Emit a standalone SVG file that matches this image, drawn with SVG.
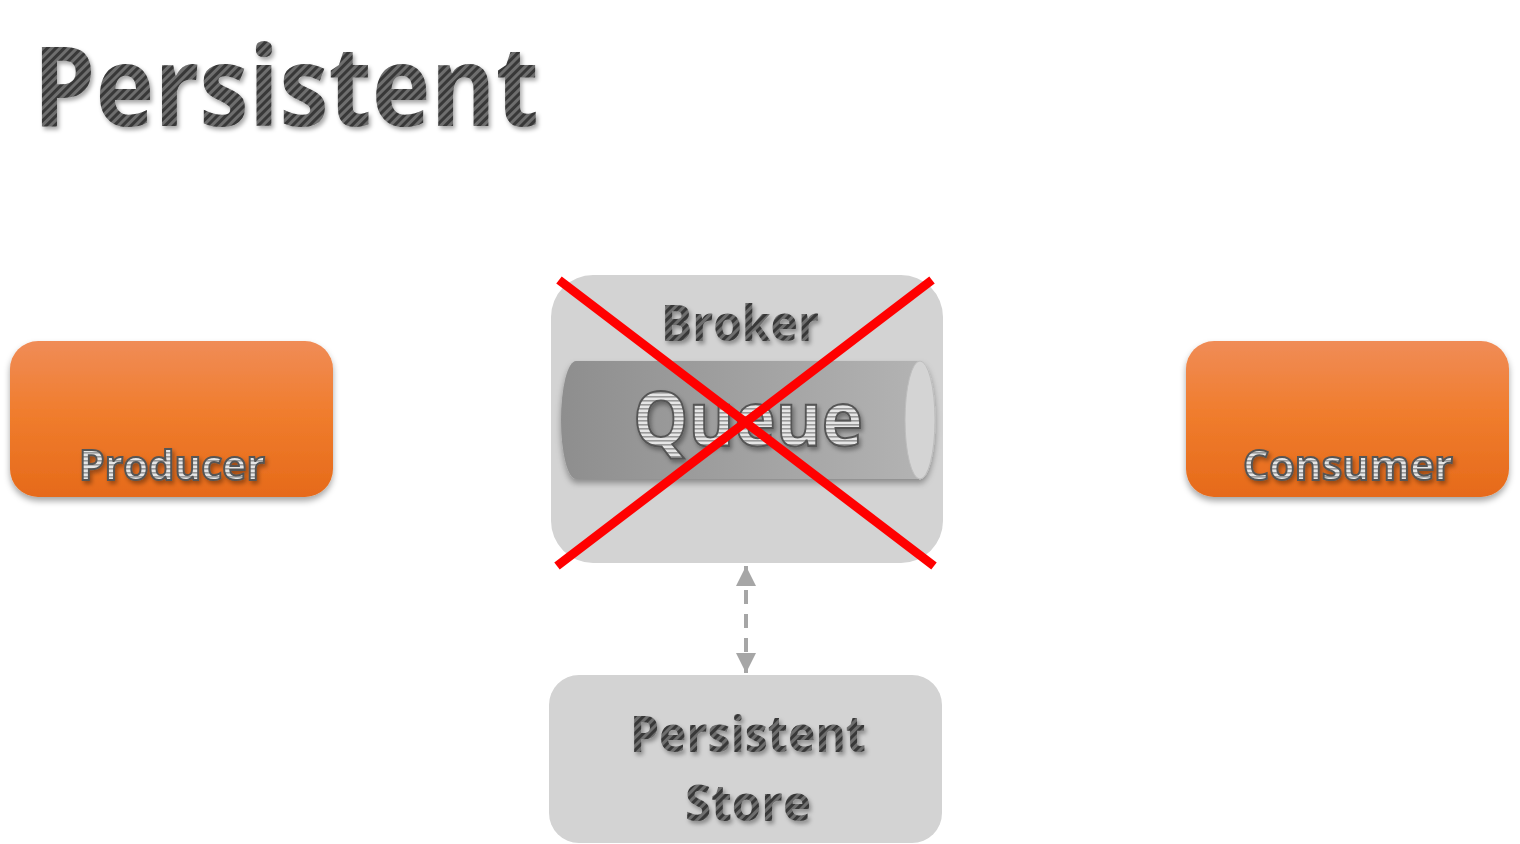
<svg xmlns="http://www.w3.org/2000/svg" width="1520" height="844" viewBox="0 0 1520 844">
<defs>
<style>
.t{font-family:"Open Sans","Noto Sans","Liberation Sans",sans-serif;font-weight:700;text-anchor:middle}
.carbon{fill:url(#carbon);filter:url(#tshadow)}
.stripe{fill:url(#hstripe);stroke:#555;stroke-width:2;filter:url(#tshadow)}
.gbox{fill:#d3d3d3}
.conn{stroke:#a6a6a6;stroke-width:4;stroke-dasharray:14 10;fill:none}
.cross{stroke:#ff0000;stroke-width:9;stroke-linecap:butt}
</style>
<pattern id="carbon" width="6" height="6" patternUnits="userSpaceOnUse" patternTransform="rotate(45)">
<rect width="6" height="6" fill="#6e6e6e"/>
<rect width="3" height="6" fill="#383838"/>
</pattern>
<pattern id="hstripe" width="4" height="4" patternUnits="userSpaceOnUse">
<rect width="4" height="4" fill="#e6e6e6"/>
<rect width="4" height="1.6" fill="#9a9a9a"/>
</pattern>
<filter id="tshadow" x="-10%" y="-20%" width="120%" height="150%">
<feDropShadow dx="2" dy="3" stdDeviation="2" flood-color="#000" flood-opacity="0.35"/>
</filter>
<filter id="bshadow" x="-10%" y="-10%" width="120%" height="130%">
<feDropShadow dx="0" dy="4" stdDeviation="3" flood-color="#000" flood-opacity="0.35"/>
</filter>
<linearGradient id="orange" x1="0" y1="0" x2="0" y2="1">
<stop offset="0" stop-color="#f08c57"/>
<stop offset="0.45" stop-color="#f07d2e"/>
<stop offset="1" stop-color="#e66a1a"/>
</linearGradient>
<linearGradient id="cyl" x1="0" y1="0" x2="1" y2="0">
<stop offset="0" stop-color="#8e8e8e"/>
<stop offset="1" stop-color="#b3b3b3"/>
</linearGradient>
<marker id="ah" viewBox="0 0 10 10" refX="10" refY="5" markerWidth="5" markerHeight="5" orient="auto-start-reverse">
<path d="M0,0 L10,5 L0,10 z" fill="#a6a6a6"/>
</marker>
</defs>
<rect width="1520" height="844" fill="#ffffff"/>

<text id="title" class="t carbon" x="286" y="126" font-size="112" textLength="506" lengthAdjust="spacingAndGlyphs">Persistent</text>

<g id="connectors">
<line class="conn" x1="746" y1="566" x2="746" y2="673" marker-start="url(#ah)" marker-end="url(#ah)"/>
</g>

<g id="producer">
<rect x="10" y="341" width="323" height="156" rx="28" fill="url(#orange)" filter="url(#bshadow)"/>
<text class="t stripe" x="172" y="480" font-size="42" textLength="186" lengthAdjust="spacingAndGlyphs">Producer</text>
</g>

<g id="consumer">
<rect x="1186" y="341" width="323" height="156" rx="28" fill="url(#orange)" filter="url(#bshadow)"/>
<text class="t stripe" x="1348" y="480" font-size="42" textLength="210" lengthAdjust="spacingAndGlyphs">Consumer</text>
</g>

<g id="broker">
<rect class="gbox" x="551" y="275" width="392" height="288" rx="42"/>
<text class="t carbon" x="740" y="341" font-size="50" textLength="158" lengthAdjust="spacingAndGlyphs">Broker</text>
<g id="queue" filter="url(#bshadow)">
<path d="M576,361 L920,361 L920,479 L576,479 A15,59 0 0 1 576,361 z" fill="url(#cyl)"/>
<ellipse cx="920" cy="420" rx="15" ry="59" fill="#d4d4d4" stroke="#bdbdbd" stroke-width="1"/>
</g>
<text class="t stripe" x="748" y="446" font-size="76" textLength="230" lengthAdjust="spacingAndGlyphs">Queue</text>
<line class="cross" x1="559" y1="280" x2="934" y2="566"/>
<line class="cross" x1="932" y1="280" x2="557" y2="566"/>
</g>

<g id="store">
<rect class="gbox" x="549" y="675" width="393" height="168" rx="30"/>
<text class="t carbon" x="748" y="752" font-size="50" textLength="236" lengthAdjust="spacingAndGlyphs">Persistent</text>
<text class="t carbon" x="748" y="821" font-size="50" textLength="126" lengthAdjust="spacingAndGlyphs">Store</text>
</g>
</svg>
